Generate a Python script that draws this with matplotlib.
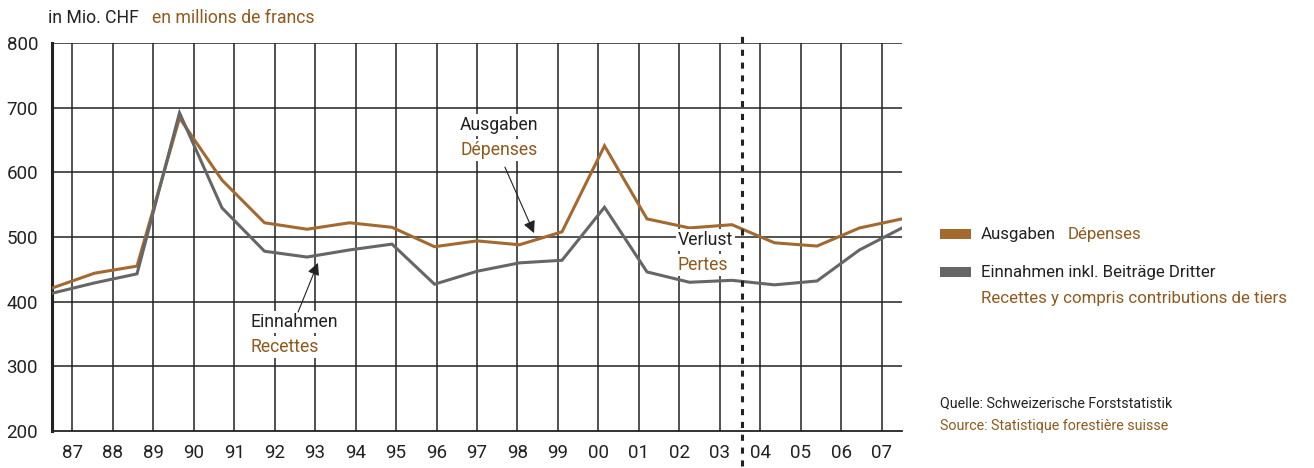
import numpy as np
import matplotlib
import matplotlib.pyplot as plt
from matplotlib.patches import Rectangle

matplotlib.use("Agg")

plt.rcParams["font.family"] = ["Roboto", "DejaVu Sans"]

# Data (Mio. CHF)
years = ["87", "88", "89", "90", "91", "92", "93", "94", "95", "96", "97",
         "98", "99", "00", "01", "02", "03", "04", "05", "06", "07"]
ausgaben = [421, 444, 455, 684, 588, 522, 512, 522, 515, 485, 494,
            488, 508, 641, 528, 514, 519, 491, 486, 514, 528]
einnahmen = [413, 429, 443, 692, 545, 478, 469, 480, 489, 427, 447,
             460, 464, 546, 446, 430, 433, 426, 432, 480, 514]
y_ticks = [200, 300, 400, 500, 600, 700, 800]

ORANGE = "#A3692F"
ORANGE_TXT = "#8F5A1E"
GRAY = "#666666"
DARK = "#222222"

W, H = 1314, 468
fig = plt.figure(figsize=(W / 100, H / 100), dpi=100)
ax = fig.add_axes([52 / W, 1 - 431 / H, (902 - 52) / W, (431 - 43) / H])

n = len(years)
xt = np.arange(n)
# data points spread evenly over the full axis width
xd = np.linspace(-0.5, n - 0.5, n)

ax.set_xlim(-0.5, n - 0.5)
ax.set_ylim(200, 800)

# grid
for y in y_ticks[1:]:
    ax.axhline(y, color=DARK, lw=1.1, zorder=1)
for x in xt:
    ax.axvline(x, color=DARK, lw=1.1, zorder=1)

ax.plot(xd, ausgaben, color=ORANGE, lw=2.2, zorder=3, solid_joinstyle="miter")
ax.plot(xd, einnahmen, color=GRAY, lw=2.2, zorder=3, solid_joinstyle="miter")

# break line 03 / 04
ax.plot([16.55, 16.55], [-0.09, 1.03], transform=ax.get_xaxis_transform(),
        color=DARK, lw=2.2, ls=(0, (2, 2.2)), clip_on=False, zorder=4)

for s in ["top", "right"]:
    ax.spines[s].set_visible(False)
ax.spines["left"].set_linewidth(2.2)
ax.spines["left"].set_color(DARK)
ax.spines["bottom"].set_linewidth(1.3)
ax.spines["bottom"].set_color(DARK)

ax.set_xticks(xt)
ax.set_xticklabels(years)
ax.set_yticks(y_ticks)
ax.tick_params(length=0, labelsize=13.5, colors=DARK, pad=9)
ax.tick_params(axis="y", pad=10)

# annotations
box = dict(fc="white", ec="none", pad=1.5)
ax.text(9.58, 673, "Ausgaben", fontsize=12.7, color=DARK, va="center", zorder=5, bbox=box)
ax.text(9.58, 634, "Dépenses", fontsize=12.7, color=ORANGE_TXT, va="center", zorder=5, bbox=box)
ax.annotate("", xy=(11.41, 506), xytext=(10.69, 608),
            arrowprops=dict(arrowstyle="-|>", lw=0.8, color=DARK, mutation_scale=18,
                            shrinkA=0, shrinkB=0), zorder=5)

ax.text(4.40, 368, "Einnahmen", fontsize=12.7, color=DARK, va="center", zorder=5, bbox=box)
ax.text(4.40, 330, "Recettes", fontsize=12.7, color=ORANGE_TXT, va="center", zorder=5, bbox=box)
ax.annotate("", xy=(6.07, 460), xytext=(5.58, 384),
            arrowprops=dict(arrowstyle="-|>", lw=0.8, color=DARK, mutation_scale=18,
                            shrinkA=0, shrinkB=0), zorder=5)

ax.text(14.96, 495, "Verlust", fontsize=12.7, color=DARK, va="center", zorder=5, bbox=box)
ax.text(14.96, 457, "Pertes", fontsize=12.7, color=ORANGE_TXT, va="center", zorder=5, bbox=box)

# header
fig.text(48 / W, 1 - 18 / H, "in Mio. CHF", fontsize=12.7, color=DARK, va="center")
fig.text(152 / W, 1 - 18 / H, "en millions de francs", fontsize=12.7, color=ORANGE_TXT, va="center")

# legend
fig.patches.append(Rectangle((940 / W, 1 - 239 / H), 31 / W, 10 / H, transform=fig.transFigure,
                             fc=ORANGE, ec="none"))
fig.text(981 / W, 1 - 234 / H, "Ausgaben", fontsize=12.2, color=DARK, va="center")
fig.text(1068 / W, 1 - 234 / H, "Dépenses", fontsize=12.2, color=ORANGE_TXT, va="center")
fig.patches.append(Rectangle((940 / W, 1 - 277 / H), 31 / W, 10 / H, transform=fig.transFigure,
                             fc=GRAY, ec="none"))
fig.text(981 / W, 1 - 272 / H, "Einnahmen inkl. Beiträge Dritter", fontsize=12.2, color=DARK, va="center")
fig.text(981 / W, 1 - 299 / H, "Recettes y compris contributions de tiers", fontsize=12.2,
         color=ORANGE_TXT, va="center")

# source
fig.text(940 / W, 1 - 403 / H, "Quelle: Schweizerische Forststatistik", fontsize=10.3, color=DARK, va="center")
fig.text(940 / W, 1 - 426 / H, "Source: Statistique forestière suisse", fontsize=10.3,
         color=ORANGE_TXT, va="center")

fig.savefig("out.png", dpi=100)
plt.close(fig)
